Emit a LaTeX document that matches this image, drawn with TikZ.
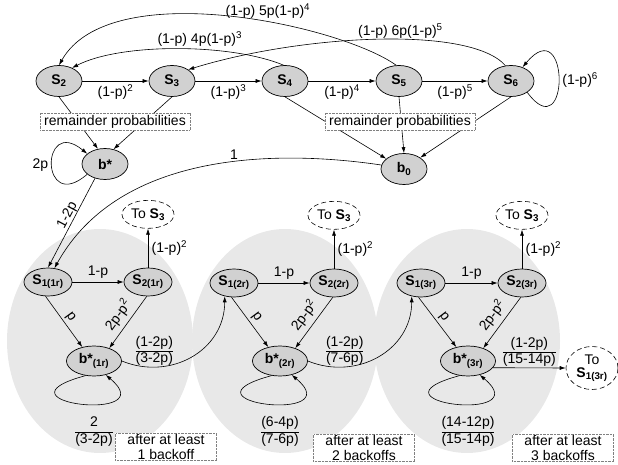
\documentclass[tikz,border=0pt]{standalone}
\usepackage{amsmath}
\usepackage{fontspec}
\setmainfont{Liberation Sans}
\usetikzlibrary{arrows.meta,calc,positioning,shapes.geometric}
\definecolor{nodegray}{gray}{0.82}
\definecolor{zonegray}{gray}{0.91}
\newcommand{\fr}[2]{{\def\arraystretch{1.05}\setlength{\arrayrulewidth}{0.6pt}\begin{tabular}{@{}c@{}}#1\\\hline #2\end{tabular}}}
\newcommand{\sn}[1]{\textbf{S\textsubscript{#1}}}
\newcommand{\bs}[1]{\textbf{b*\textsubscript{#1}}}
\tikzset{%
	state/.style  = {draw, ellipse, fill=nodegray, line width=0.7pt, minimum width=46pt, minimum height=31pt, inner sep=1pt},
	rstate/.style = {state, minimum width=48pt, minimum height=28pt},
	bstate/.style = {state, minimum width=55pt, minimum height=30pt},
	target/.style = {draw, ellipse, line width=0.6pt, dash pattern=on 5pt off 3pt, minimum width=52pt, minimum height=28pt, inner sep=1pt, align=center},
	zone/.style   = {ellipse, fill=zonegray, minimum width=186pt, minimum height=224pt, inner sep=0pt},
	note/.style   = {draw=gray, densely dotted, fill=white, inner xsep=4pt, inner ysep=2pt},
	arrow/.style  = {line width=0.6pt, -{Latex[length=6pt,width=4pt]}},
}

\begin{document}
\begin{tikzpicture}[x=1pt, y=-1pt, font=\fontsize{14}{15}\selectfont]
	\useasboundingbox (0,0) rectangle (618,465);
	% shaded groups
	\node[zone] (zone1) at (100,341) {};
	\node[zone] (zone2) at (285,341) {};
	\node[zone] (zone3) at (467,341) {};
	
	% top chain
	\node[state] (s2) at (59,81) {\sn{2}};
	\node[state] (s3) at (172,81) {\sn{3}};
	\node[state] (s4) at (285,81) {\sn{4}};
	\node[state] (s5) at (399,81) {\sn{5}};
	\node[state] (s6) at (511,81) {\sn{6}};
	\node[state] (bstar) at (105,164) {\textbf{b*}};
	\node[state] (bzero) at (404,169) {\textbf{b\textsubscript{0}}};
	
	% retry groups
	\node[rstate] (s11) at (48,282) {\sn{1(1r)}};
	\node[rstate] (s21) at (148,282) {\sn{2(1r)}};
	\node[bstate] (b1) at (94,361) {\bs{(1r)}};
	\node[rstate] (s12) at (234,283) {\sn{1(2r)}};
	\node[rstate] (s22) at (334,283) {\sn{2(2r)}};
	\node[bstate] (b2) at (280,361) {\bs{(2r)}};
	\node[rstate] (s13) at (421,283) {\sn{1(3r)}};
	\node[rstate] (s23) at (522,283) {\sn{2(3r)}};
	\node[bstate] (b3) at (468,361) {\bs{(3r)}};
	\node[target, above=39pt of s21] (to1) {To \sn{3}};
	\node[target, above=39pt of s22] (to2) {To \sn{3}};
	\node[target, above=39pt of s23] (to3) {To \sn{3}};
	\node[target, minimum height=43pt] (tos) at (592,368) {To\\[-2pt]\sn{1(3r)}};
	
	% top edges
	\draw[arrow] (s2) -- node[below] {(1-p)\textsuperscript{2}} (s3);
	\draw[arrow] (s3) -- node[below] {(1-p)\textsuperscript{3}} (s4);
	\draw[arrow] (s4) -- node[below] {(1-p)\textsuperscript{4}} (s5);
	\draw[arrow] (s5) -- node[below] {(1-p)\textsuperscript{5}} (s6);
	\draw[arrow] (s6.-35) .. controls (570,150) and (570,10) .. node[right] {(1-p)\textsuperscript{6}} (s6.50);
	\draw[arrow] (s5.100) .. controls (340,25) and (110,-25) .. node[pos=0.4, above] {(1-p) 5p(1-p)\textsuperscript{4}} (s2.north);
	\draw[arrow] (s4.95) .. controls (230,43) and (120,43) .. node[pos=0.4, above=-1pt] {(1-p) 4p(1-p)\textsuperscript{3}} (s2.45);
	\draw[arrow] (s6.110) .. controls (470,25) and (300,35) .. node[pos=0.43, above=-3pt] {(1-p) 6p(1-p)\textsuperscript{5}} (s3.35);
	\draw[arrow] (s2.south) -- (bstar.115);
	\draw[arrow] (s3.south) -- (bstar.60);
	\draw[arrow] (s4.south) -- (bzero.150);
	\draw[arrow] (s5.south) -- (bzero.north);
	\draw[arrow] (s6.south) -- (bzero.35);
	\draw[arrow] (bstar.210) .. controls (40,215) and (40,115) .. node[left] {2p} (bstar.150);
	\node[note] (rem1) at (115,121.5) {remainder probabilities};
	\node[note] (rem2) at (400,121.5) {remainder probabilities};
	\draw[arrow] (bstar.235) -- node[pos=0.45, sloped, above=-3pt] {1-2p} (s11.north);
	\draw[arrow] (bzero.170) .. controls (280,150) and (120,150) .. node[pos=0.42, above=-1pt] {1} (s11.65);
	
	% group 1
	\draw[arrow] (s11) -- node[above] {1-p} (s21);
	\draw[arrow] (s21) -- node[right] {(1-p)\textsuperscript{2}} (to1);
	\draw[arrow] (s11.260) -- node[sloped, above=-1pt] {p} (b1.130);
	\draw[arrow] (s21.265) -- node[sloped, above=1pt] {2p-p\textsuperscript{2}} (b1.40);
	\draw[arrow] (b1.240) .. controls +(-100,27) and +(59,49) .. (b1.-50);
	\draw[arrow] (b1.east) .. controls +(49,20) and +(0,54) .. node[pos=0.22, above=-4pt] {\fr{(1-2p)}{(3-2p)}} (s12.235);
	\node[below=36pt of b1] (f1) {\fr{2}{(3-2p)}};
	
	% group 2
	\draw[arrow] (s12) -- node[above] {1-p} (s22);
	\draw[arrow] (s22) -- node[right] {(1-p)\textsuperscript{2}} (to2);
	\draw[arrow] (s12.260) -- node[sloped, above=-1pt] {p} (b2.130);
	\draw[arrow] (s22.265) -- node[sloped, above=1pt] {2p-p\textsuperscript{2}} (b2.40);
	\draw[arrow] (b2.240) .. controls +(-100,27) and +(59,49) .. (b2.-50);
	\draw[arrow] (b2.east) .. controls +(49,20) and +(0,54) .. node[pos=0.25, above=-4pt] {\fr{(1-2p)}{(7-6p)}} (s13.235);
	\node[below=36pt of b2] (f2) {\fr{(6-4p)}{(7-6p)}};
	
	% group 3
	\draw[arrow] (s13) -- node[above] {1-p} (s23);
	\draw[arrow] (s23) -- node[right] {(1-p)\textsuperscript{2}} (to3);
	\draw[arrow] (s13.260) -- node[sloped, above=-1pt] {p} (b3.130);
	\draw[arrow] (s23.265) -- node[sloped, above=1pt] {2p-p\textsuperscript{2}} (b3.40);
	\draw[arrow] (b3.240) .. controls +(-100,27) and +(59,49) .. (b3.-50);
	\draw[arrow] (b3.-15) -- node[above=-4pt] {\fr{(1-2p)}{(15-14p)}} (tos.west);
	\node[below=36pt of b3] (f3) {\fr{(14-12p)}{(15-14p)}};
	
	% group notes
	\node[note, align=center, inner xsep=12pt, inner ysep=1pt] (back1) at (166,447) {after at least\\1 backoff};
	\node[note, align=center, inner xsep=12pt, inner ysep=1pt] (back2) at (364,448) {after at least\\2 backoffs};
	\node[note, align=center, inner xsep=12pt, inner ysep=1pt] (back3) at (563,448) {after at least\\3 backoffs};
\end{tikzpicture}
\end{document}
